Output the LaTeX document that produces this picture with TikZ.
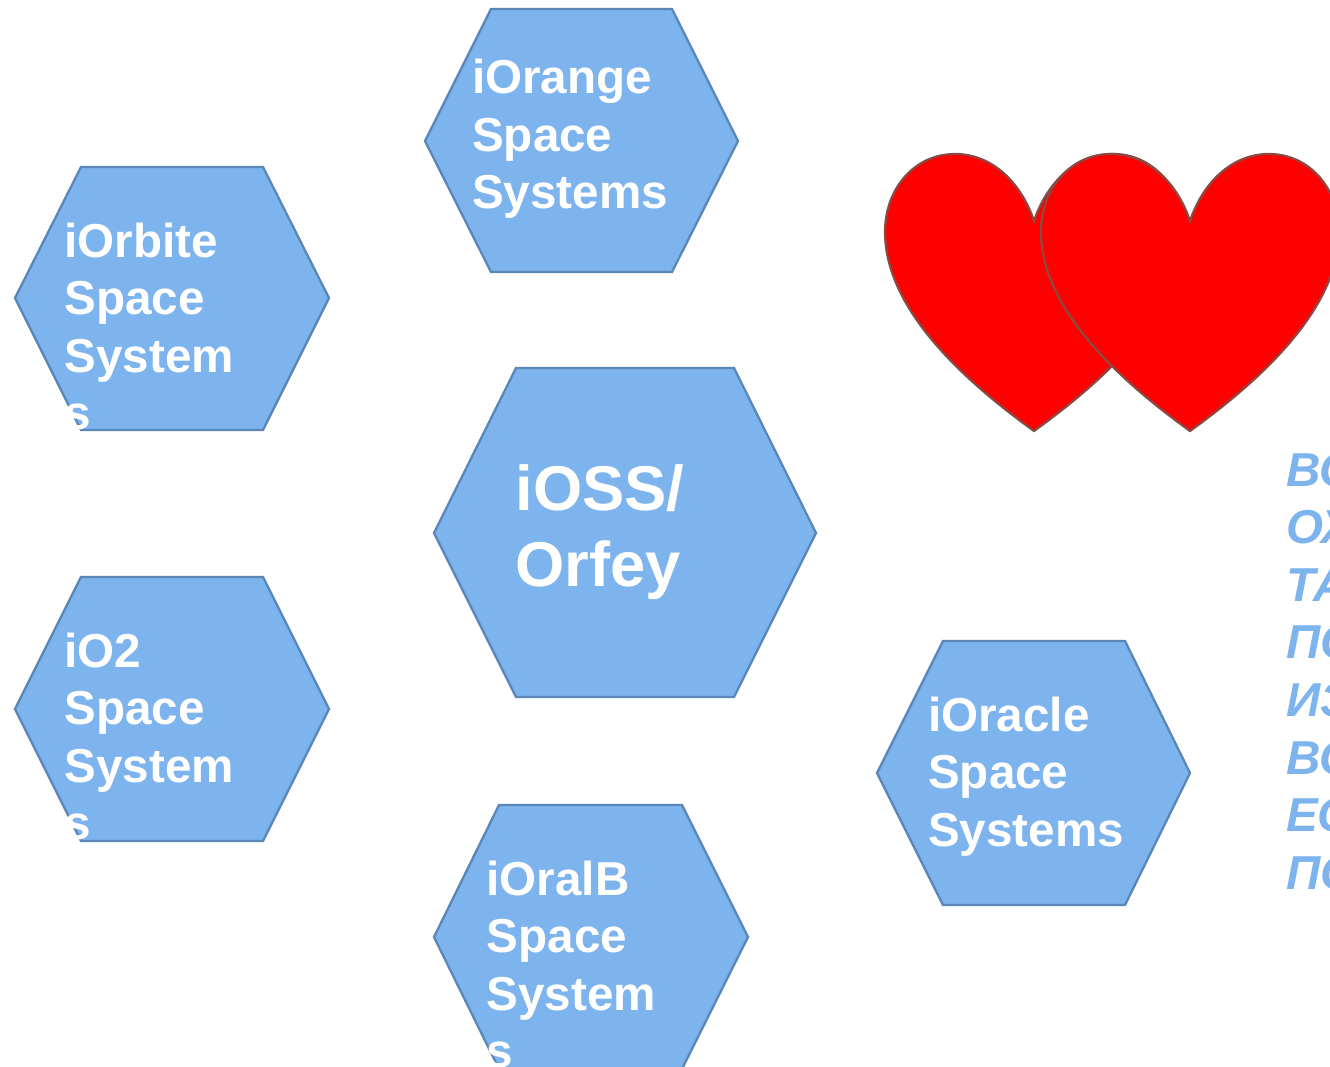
\documentclass[tikz,border=0pt]{standalone}
\usepackage{fontspec}
\setmainfont{Liberation Sans}
\definecolor{hexfill}{HTML}{7DB4EE}
\definecolor{hexline}{HTML}{5B86B8}
\definecolor{heartline}{HTML}{8A4A44}
\newcommand{\heartshape}[1]{%
  \draw[heart,shift={(#1,0)}] (0,221)
    .. controls (-12,185) and (-40,154) .. (-79,154)
    .. controls (-119,154) and (-149,188) .. (-149,232)
    .. controls (-149,310) and (-68,382) .. (0,431)
    .. controls (68,382) and (149,310) .. (149,232)
    .. controls (149,188) and (119,154) .. (79,154)
    .. controls (40,154) and (12,185) .. (0,221) -- cycle;}
\newcommand{\threelines}[3]{\vtop{\hbox{#1}\hbox{#2}\hbox{#3}}}
\newcommand{\fourlines}[4]{\vtop{\hbox{#1}\hbox{#2}\hbox{#3}\hbox{#4}}}
\tikzset{
  hexa/.style={fill=hexfill,draw=hexline,line width=2.3pt,line join=miter},
  heart/.style={fill=red,draw=heartline,line width=2.2pt,line join=miter},
  hextext/.style={anchor=base west,inner sep=0pt,text=white,font=\fontsize{47.6}{57.5}\selectfont\bfseries},
  bigtext/.style={anchor=base west,inner sep=0pt,text=white,font=\fontsize{63.3}{76.7}\selectfont\bfseries},
  sidetext/.style={anchor=base west,inner sep=0pt,text=hexfill,font=\fontsize{47.6}{57.6}\selectfont\bfseries\itshape}
}
\begin{document}
\begin{tikzpicture}[x=1pt,y=-1pt]
\useasboundingbox (0,0) rectangle (1330,1067);
\clip (0,0) rectangle (1330,1067);
\fill[white] (0,0) rectangle (1330,1067);
\draw[hexa] (491,9) -- (672,9) -- (738,141) -- (672,272) -- (491,272) -- (425,141) -- cycle;
\draw[hexa] (81,167) -- (263,167) -- (329,298) -- (263,430) -- (81,430) -- (15,298) -- cycle;
\draw[hexa] (81,577) -- (263,577) -- (329,709) -- (263,841) -- (81,841) -- (15,709) -- cycle;
\draw[hexa] (516,368) -- (734,368) -- (816,533) -- (734,697) -- (516,697) -- (434,533) -- cycle;
\draw[hexa] (499,805) -- (682,805) -- (748,937) -- (682,1069) -- (499,1069) -- (434,937) -- cycle;
\draw[hexa] (943,641) -- (1125,641) -- (1190,773) -- (1125,905) -- (943,905) -- (877,773) -- cycle;
\heartshape{1034}
\heartshape{1190}
\node[hextext] (orange) at (472,94) {\threelines{iOrange}{Space}{Systems}};
\node[hextext] (orbite) at (64.5,257.5) {\fourlines{iOrbite}{Space}{System}{s}};
\node[hextext] (otwo) at (64.5,667) {\fourlines{iO2}{Space}{System}{s}};
\node[hextext] (oralb) at (486.5,895) {\fourlines{iOralB}{Space}{System}{s}};
\node[hextext] (oracle) at (928,731) {\threelines{iOracle}{Space}{Systems}};
\node[bigtext] (oss) at (515.5,510) {\vtop{\hbox{iOSS/}\hbox{Orfey}}};
\node[sidetext] (side) at (1286,486) {\vtop{\hbox{ВО}\hbox{ОЖ}\hbox{ТА}\hbox{ПО}\hbox{ИЗ}\hbox{ВО}\hbox{ЕС}\hbox{ПО}}};
\end{tikzpicture}
\end{document}
